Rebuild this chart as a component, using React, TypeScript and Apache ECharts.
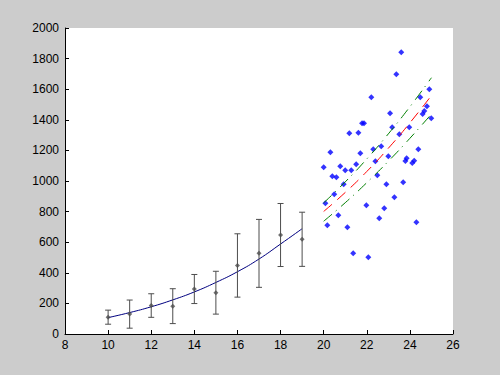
import React, { useEffect, useRef } from "react";
import * as echarts from "echarts";

// Left block: error bar data (x, mean, half-width) and fitted curve
const ebX = [10, 11, 12, 13, 14, 15, 16, 17, 18, 19];
const ebMean = [110, 130, 186, 182, 294, 270, 448, 527, 647, 619];
const ebErr = [46, 92, 77, 114, 95, 140, 207, 222, 206, 177];
const fitX = [10, 11, 12, 13, 14, 15, 16, 17, 18, 19];
const fitY = [107, 140, 178, 223, 275, 337, 407, 490, 588, 688];

// Right block: scatter points
const scX = [
  23.6, 23.37, 22.21, 24.9, 23.08, 24.48, 24.79, 24.67, 24.59, 24.99,
  21.78, 21.87, 23.18, 23.97, 21.19, 21.61, 23.51, 20.31, 21.7, 22.3,
  22.67, 24.39, 23.0, 23.85, 23.79, 24.2, 24.11, 20.0, 20.77, 21.51,
  22.4, 21.0, 21.28, 20.4, 20.59, 22.49, 20.93, 22.91, 23.69, 20.49,
  23.28, 20.08, 21.98, 22.81, 20.68, 22.58, 20.17, 21.1, 24.3, 21.37,
  22.07,
];
const scY = [
  1841, 1697, 1547, 1599, 1442, 1547, 1488, 1458, 1438, 1410,
  1377, 1377, 1351, 1351, 1312, 1316, 1305, 1188, 1181, 1207,
  1227, 1207, 1161, 1148, 1131, 1133, 1118, 1090, 1096, 1109,
  1129, 1070, 1070, 1031, 1024, 1037, 978, 978, 992, 913,
  893, 854, 841, 822, 776, 756, 710, 697, 730, 527,
  501,
];

// Regression and bounds
const regX = [20, 21, 22, 23, 24, 25];
const regMid = [801, 925, 1062, 1214, 1380, 1559];
const regUp = [857, 994, 1144, 1308, 1485, 1675];
const regLow = [737, 858, 989, 1129, 1279, 1438];

const FONT = "'Liberation Sans', Arial, sans-serif";

export default function App() {
  const ref = useRef<HTMLDivElement>(null);
  useEffect(() => {
    if (!ref.current) return;
    const chart = echarts.init(ref.current, undefined, { renderer: "svg" });
    const zip = (xs: number[], ys: number[]) => xs.map((x, i) => [x, ys[i]]);
    chart.setOption({
      animation: false,
      backgroundColor: "#CCCCCC",
      grid: {
        left: 65,
        right: 47,
        top: 28,
        bottom: 41,
        show: true,
        backgroundColor: "#FFFFFF",
        borderWidth: 0,
      },
      xAxis: {
        type: "value",
        min: 8,
        max: 26,
        interval: 2,
        axisLine: { show: true, onZero: false, lineStyle: { color: "#000", width: 1 } },
        axisTick: { show: true, inside: true, length: 4, lineStyle: { color: "#000" } },
        axisLabel: { color: "#000", fontSize: 12, fontFamily: FONT, margin: 5, formatter: (v: number) => String(v) },
        splitLine: { show: false },
      },
      yAxis: {
        type: "value",
        min: 0,
        max: 2000,
        interval: 200,
        axisLine: { show: true, onZero: false, lineStyle: { color: "#000", width: 1 } },
        axisTick: { show: true, inside: true, length: 4, lineStyle: { color: "#000" } },
        axisLabel: { color: "#000", fontSize: 12, fontFamily: FONT, margin: 6, formatter: (v: number) => String(v) },
        splitLine: { show: false },
      },
      series: [
        {
          type: "line",
          data: zip(fitX, fitY),
          smooth: true,
          showSymbol: false,
          lineStyle: { color: "#000080", width: 1 },
          z: 2,
        },
        {
          type: "custom",
          data: ebX.map((x, i) => [x, ebMean[i], ebErr[i]]),
          encode: { x: 0, y: 1 },
          renderItem: (params: any, api: any) => {
            const x = api.value(0);
            const m = api.value(1);
            const e = api.value(2);
            const top = api.coord([x, m + e]);
            const bot = api.coord([x, m - e]);
            const hw = 3;
            const st = { stroke: "#4D4D4D", lineWidth: 1 };
            return {
              type: "group",
              children: [
                { type: "line", shape: { x1: top[0], y1: top[1], x2: bot[0], y2: bot[1] }, style: st },
                { type: "line", shape: { x1: top[0] - hw, y1: top[1], x2: top[0] + hw, y2: top[1] }, style: st },
                { type: "line", shape: { x1: bot[0] - hw, y1: bot[1], x2: bot[0] + hw, y2: bot[1] }, style: st },
              ],
            };
          },
          z: 3,
        },
        {
          type: "scatter",
          data: zip(ebX, ebMean),
          symbol: "diamond",
          symbolSize: 5,
          itemStyle: { color: "#4D4D4D" },
          z: 4,
        },
        {
          type: "scatter",
          data: zip(scX, scY),
          symbol: "diamond",
          symbolSize: 6,
          itemStyle: { color: "#0000FF" },
          z: 5,
        },
        {
          type: "line",
          data: zip(regX, regMid),
          smooth: true,
          showSymbol: false,
          lineStyle: { color: "#FF0000", width: 1, type: [11, 7] },
          z: 6,
        },
        {
          type: "line",
          data: zip(regX, regUp),
          smooth: true,
          showSymbol: false,
          lineStyle: { color: "#008000", width: 1, type: [11, 5, 1, 6] },
          z: 6,
        },
        {
          type: "line",
          data: zip(regX, regLow),
          smooth: true,
          showSymbol: false,
          lineStyle: { color: "#008000", width: 1, type: [11, 5, 1, 6] },
          z: 6,
        },
      ],
    });
    return () => chart.dispose();
  }, []);
  return (
    <div
      ref={ref}
      style={{ position: "fixed", left: 0, top: 0, width: 500, height: 375 }}
    />
  );
}
